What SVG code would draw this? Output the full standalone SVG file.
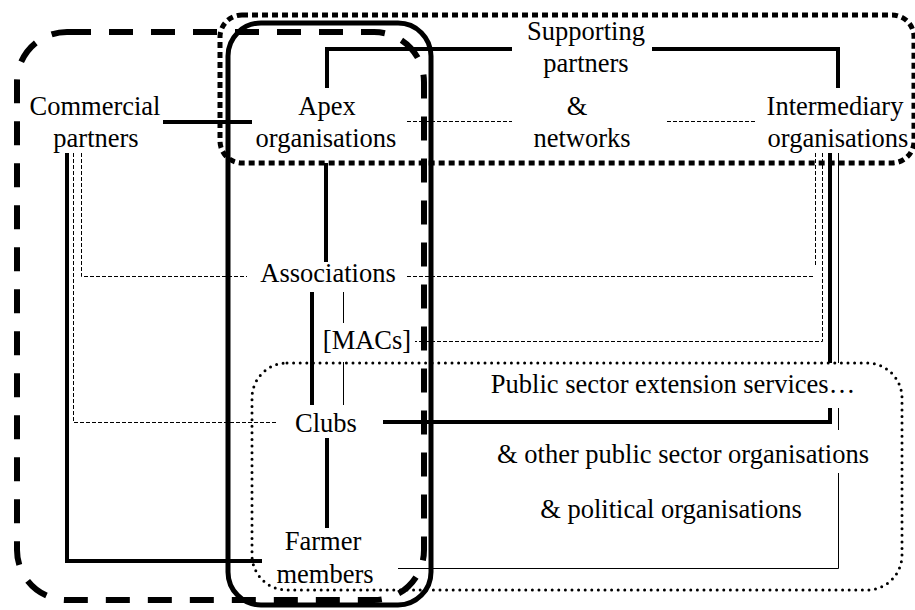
<svg xmlns="http://www.w3.org/2000/svg" width="915" height="610" viewBox="0 0 915 610">
  <style>
    .lbl { font-family: "Liberation Serif", "Times New Roman", serif; font-size: 26.5px; fill: #000; text-anchor: middle; }
    .thick { fill: none; stroke: #000; stroke-width: 4; }
    .thin { fill: none; stroke: #000; stroke-width: 1; }
    .dash { fill: none; stroke: #000; stroke-width: 1; stroke-dasharray: 4 2; }
    .zone { fill: none; stroke: #000; }
  </style>
  <rect width="915" height="610" fill="#fff"/>

  <!-- groupings -->
  <g id="zones">
    <rect id="zone-market" class="zone" x="17" y="32" width="407" height="568" rx="50" stroke-width="6" stroke-dasharray="24 18"/>
    <rect id="zone-farmer-org" class="zone" x="228" y="23" width="203" height="582" rx="33" stroke-width="5"/>
    <rect id="zone-support" class="zone" x="220" y="15" width="694" height="148" rx="22" stroke-width="5" stroke-dasharray="6 4"/>
    <rect id="zone-public" class="zone" x="252" y="363" width="650" height="227" rx="35" stroke-width="3" stroke-dasharray="0 6.6" stroke-linecap="round"/>
  </g>

  <!-- links between actors -->
  <g id="connectors">
    <path class="thick" d="M327,88 V49 H512"/>
    <path class="thick" d="M652,49 H838 V88"/>
    <path class="thick" d="M163,122 H252"/>
    <path class="thick" d="M326,163 V262"/>
    <path class="thick" d="M312,292 V405"/>
    <path class="thick" d="M327,438 V528"/>
    <path class="thick" d="M67,153 V561 H262"/>
    <path class="thick" d="M830,153 V363"/>
    <path class="thick" d="M830,408 V422 H383"/>

    <path class="thin" d="M343.5,292 V323"/>
    <path class="thin" d="M343.5,362 V405"/>
    <path class="thin" d="M838.5,153 V363"/>
    <path class="thin" d="M838.5,408 V430"/>
    <path class="thin" d="M838.5,473 V568.5 H398"/>

    <path class="dash" d="M407,121.5 H512"/>
    <path class="dash" d="M667,121.5 H757"/>
    <path class="dash" d="M81.5,153 V276.5 H247"/>
    <path class="dash" d="M407,276.5 H815"/>
    <path class="dash" d="M815.5,153 V265"/>
    <path class="dash" d="M73.5,153 V422.5 H278"/>
    <path class="dash" d="M822.5,153 V341.5 H415"/>
  </g>

  <g id="commercial">
    <text class="lbl" x="95" y="115">Commercial</text>
    <text class="lbl" x="96" y="147">partners</text>
  </g>
  <g id="apex">
    <text class="lbl" x="327" y="115">Apex</text>
    <text class="lbl" x="326" y="147">organisations</text>
  </g>
  <g id="supporting">
    <text class="lbl" x="586" y="40">Supporting</text>
    <text class="lbl" x="586" y="72">partners</text>
    <text class="lbl" x="577" y="115">&amp;</text>
    <text class="lbl" x="582" y="147">networks</text>
  </g>
  <g id="intermediary">
    <text class="lbl" x="835" y="115">Intermediary</text>
    <text class="lbl" x="838" y="147">organisations</text>
  </g>
  <g id="associations">
    <text class="lbl" x="328" y="282">Associations</text>
  </g>
  <g id="macs">
    <text class="lbl" x="367" y="349">[MACs]</text>
  </g>
  <g id="clubs">
    <text class="lbl" x="326" y="432">Clubs</text>
  </g>
  <g id="farmers">
    <text class="lbl" x="323" y="550">Farmer</text>
    <text class="lbl" x="325" y="583">members</text>
  </g>
  <g id="public">
    <text class="lbl" x="673" y="393">Public sector extension services…</text>
    <text class="lbl" x="683" y="463">&amp; other public sector organisations</text>
    <text class="lbl" x="671" y="518">&amp; political organisations</text>
  </g>
</svg>
